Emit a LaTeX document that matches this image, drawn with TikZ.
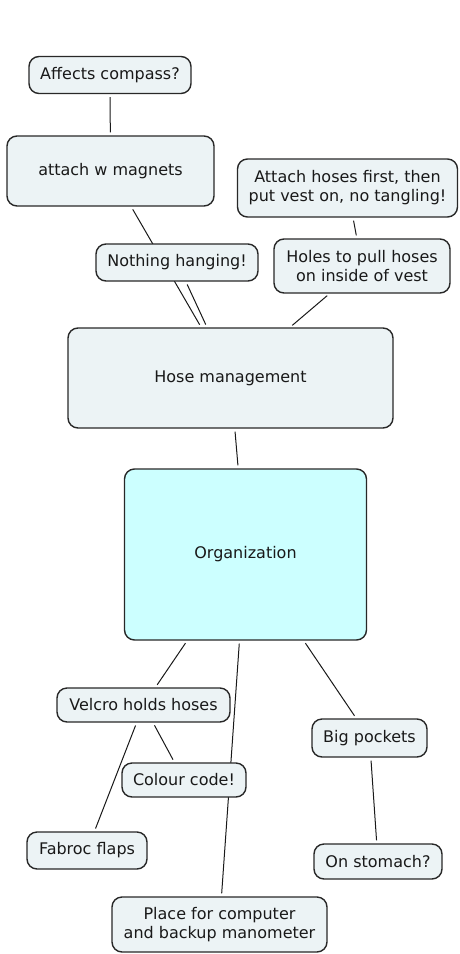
\documentclass[tikz,border=0pt]{standalone}
\usepackage{fontspec}
\setmainfont{DejaVu Sans}
\usetikzlibrary{backgrounds}
\definecolor{boxfill}{RGB}{236,243,245}
\definecolor{orgfill}{RGB}{204,255,255}
\definecolor{boxline}{RGB}{40,40,40}
\definecolor{edgeline}{RGB}{25,25,25}
\tikzset{
  concept/.style={draw=boxline, line width=1.4pt, fill=boxfill, rounded corners=10pt,
    inner sep=0pt, align=center, font=\fontsize{16}{19}\selectfont, text=black!90},
  link/.style={draw=edgeline, line width=1pt, shorten <=3pt, shorten >=3pt}
}
\begin{document}
\begin{tikzpicture}[x=1pt,y=-1pt]
\useasboundingbox (0,0) rectangle (459,954);
\node[concept, minimum width=162pt, minimum height=37pt] (compass) at (110,75) {Affects compass?};
\node[concept, minimum width=207pt, minimum height=70pt] (magnets) at (110.5,171) {attach w magnets};
\node[concept, minimum width=162pt, minimum height=37pt] (nothing) at (177,262.5) {Nothing hanging!};
\node[concept, minimum width=220pt, minimum height=58pt] (attach) at (347.5,188) {Attach hoses first, then\\put vest on, no tangling!};
\node[concept, minimum width=176pt, minimum height=54pt] (holes) at (362,266) {Holes to pull hoses\\on inside of vest};
\node[concept, minimum width=325pt, minimum height=100pt] (hose) at (230.5,378) {Hose management};
\node[concept, fill=orgfill, minimum width=242pt, minimum height=171pt] (org) at (245.5,554.5) {Organization};
\node[concept, minimum width=173pt, minimum height=34pt] (velcro) at (143.5,705) {Velcro holds hoses};
\node[concept, minimum width=124pt, minimum height=34pt] (colour) at (184,780) {Colour code!};
\node[concept, minimum width=120pt, minimum height=37pt] (fabroc) at (87,850.5) {Fabroc flaps};
\node[concept, minimum width=115pt, minimum height=38pt] (big) at (369.5,738) {Big pockets};
\node[concept, minimum width=128pt, minimum height=35pt] (stomach) at (378,861.5) {On stomach?};
\node[concept, minimum width=215pt, minimum height=55pt] (place) at (219.5,924.5) {Place for computer\\and backup manometer};
\begin{pgfonlayer}{background}
\draw[link] (compass) -- (magnets);
\draw[link] (magnets) -- (hose);
\draw[link] (nothing) -- (hose);
\draw[link] (attach) -- (holes);
\draw[link] (holes) -- (hose);
\draw[link] (hose) -- (org);
\draw[link] (org) -- (velcro);
\draw[link] (velcro) -- (colour);
\draw[link] (velcro) -- (fabroc);
\draw[link] (org) -- (big);
\draw[link] (big) -- (stomach);
\draw[link] (org) -- (place);
\end{pgfonlayer}
\end{tikzpicture}
\end{document}
